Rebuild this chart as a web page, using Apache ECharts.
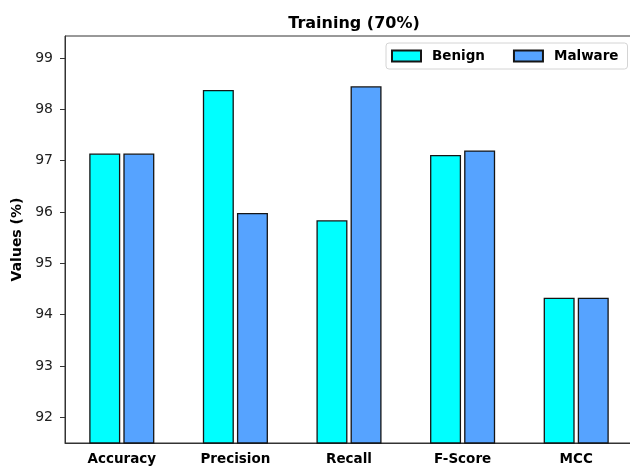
<!DOCTYPE html>
<html>
<head>
<meta charset="utf-8">
<script src="https://cdn.jsdelivr.net/npm/echarts@6/dist/echarts.min.js"></script>
<style>
  html, body { margin: 0; padding: 0; background: #fff; }
  #chart { width: 630px; height: 467px; }
</style>
</head>
<body>
<div id="chart"></div>
<script>
const metrics = ['Accuracy', 'Precision', 'Recall', 'F-Score', 'MCC'];
const benign = [97.14, 98.38, 95.84, 97.11, 94.33];
const malware = [97.14, 95.98, 98.45, 97.20, 94.33];
const yTicks = [92, 93, 94, 95, 96, 97, 98, 99];

const font = 'DejaVu Sans';
const chart = echarts.init(document.getElementById('chart'));

const barStyle = (color) => ({
  color: color,
  borderColor: '#151515',
  borderWidth: 1.3
});

chart.setOption({
  animation: false,
  title: {
    text: 'Training (70%)',
    left: 349,
    textAlign: 'center',
    top: 11,
    textStyle: { fontFamily: font, fontSize: 16, fontWeight: 'bold', color: '#000' }
  },
  legend: {
    left: 386,
    top: 43,
    icon: 'rect',
    itemWidth: 29,
    itemHeight: 11,
    itemGap: 28,
    padding: [6, 9, 6, 5],
    borderColor: '#d4d4d4',
    borderWidth: 1,
    borderRadius: 3,
    textStyle: { fontFamily: font, fontSize: 13.5, fontWeight: 'bold', color: '#000', padding: [0, 0, 0, 6] },
    data: ['Benign', 'Malware']
  },
  grid: {
    left: 65,
    top: 36,
    width: 568,
    bottom: 24,
    outerBoundsMode: 'none',
    show: true,
    borderColor: '#333',
    borderWidth: 1
  },
  xAxis: {
    type: 'category',
    data: metrics,
    axisLine: { lineStyle: { color: '#333' } },
    axisTick: { alignWithLabel: true, length: 5, lineStyle: { color: '#333' } },
    axisLabel: { fontFamily: font, fontSize: 13.5, fontWeight: 'bold', color: '#000', margin: 9 }
  },
  yAxis: {
    type: 'value',
    min: 91.5,
    max: 99.43,
    name: 'Values (%)',
    nameLocation: 'middle',
    nameGap: 41,
    nameRotate: 90,
    nameTextStyle: { fontFamily: font, fontSize: 14, fontWeight: 'bold', color: '#000' },
    splitLine: { show: false },
    axisLine: { show: true, lineStyle: { color: '#333' } },
    axisTick: { show: true, length: 5, customValues: yTicks, lineStyle: { color: '#333' } },
    axisLabel: { fontFamily: font, fontSize: 14, color: '#222', margin: 12, customValues: yTicks }
  },
  series: [
    {
      name: 'Benign',
      type: 'bar',
      data: benign,
      barWidth: 31,
      barGap: '10%',
      itemStyle: barStyle('#00ffff')
    },
    {
      name: 'Malware',
      type: 'bar',
      data: malware,
      barWidth: 31,
      barGap: '10%',
      itemStyle: barStyle('#56a3ff')
    }
  ]
});
</script>
</body>
</html>
